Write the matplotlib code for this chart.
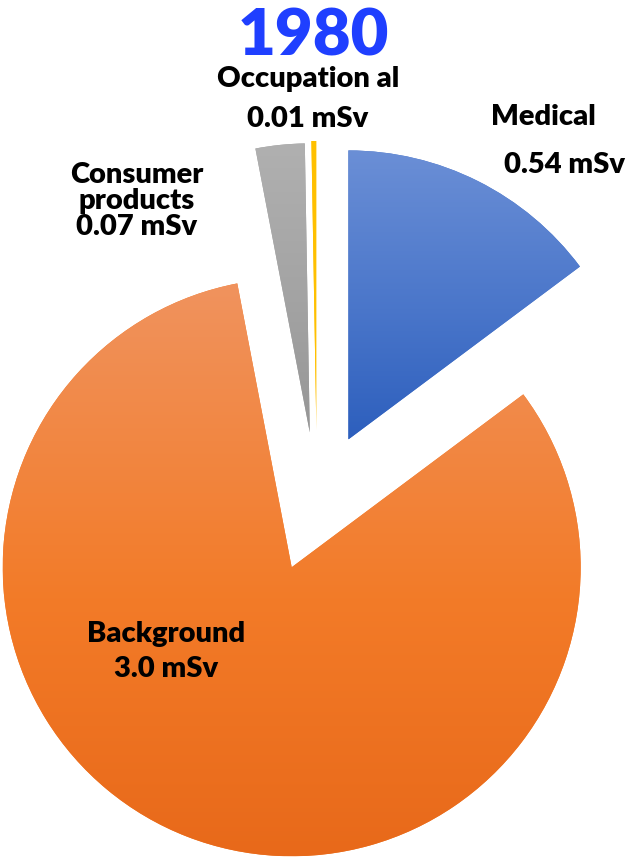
import matplotlib.pyplot as plt
import numpy as np
from matplotlib.colors import LinearSegmentedColormap

# data
names = ["Medical", "Background", "Consumer\nproducts", "Occupation al"]
doses = ["0.54 mSv", "3.0 mSv", "0.07 mSv", "0.01 mSv"]
sizes = [0.54, 3.0, 0.10, 0.01]      # slice sizes as drawn
explode = [70, 70, 70, 72]           # pie offsets are in data units
grad_top = ["#6b8fd6", "#f0935e", "#b0b0b0", "#ffc000"]
grad_mid = ["#4a76ca", "#f37b28", "#a3a3a3", "#ffc000"]
grad_bottom = ["#2d5fbd", "#e8691a", "#969696", "#ffc000"]
title = "1980"

W, H = 629, 860
plt.rcParams['font.family'] = ['Lato', 'DejaVu Sans']

fig = plt.figure(figsize=(W / 100, H / 100), dpi=100)
ax = fig.add_axes([0, 0, 1, 1])

wedges, _ = ax.pie(sizes, explode=explode, startangle=90, counterclock=False,
                   center=(317, H - 502), radius=289, colors=grad_mid,
                   wedgeprops=dict(linewidth=0))

# vertical gradient inside each slice
g = np.linspace(0, 1, 256).reshape(-1, 1)
for w, c0, cm, c1 in zip(wedges, grad_top, grad_mid, grad_bottom):
    bb = w.get_path().get_extents()
    cmap = LinearSegmentedColormap.from_list("g", [(0, c0), (0.55, cm), (1, c1)])
    im = ax.imshow(g, cmap=cmap, extent=(bb.x0, bb.x1, bb.y0, bb.y1),
                   origin="upper", aspect="auto", zorder=w.get_zorder())
    im.set_clip_path(w)

ax.set_xlim(0, W)
ax.set_ylim(0, H)
ax.axis("off")

fs = 21
kw = dict(fontsize=fs, fontweight="heavy", ha="center", va="baseline", color="black")

ax.text(313, H - 55, title, fontsize=47, fontweight="heavy", color="#1f3fff",
        ha="center", va="baseline")

# occupational
ax.text(308, H - 87, names[3], **kw)
ax.text(308, H - 127, doses[3], **kw)
# medical
ax.text(543, H - 125, names[0], **kw)
ax.text(565, H - 173, doses[0], **kw)
# consumer products
for i, s in enumerate(names[2].split("\n") + [doses[2]]):
    ax.text(137, H - (183 + 26 * i), s, **kw)
# background
ax.text(166, H - 642, names[1], **kw)
ax.text(166, H - 677, doses[1], **kw)

fig.savefig("out.png", dpi=100)
